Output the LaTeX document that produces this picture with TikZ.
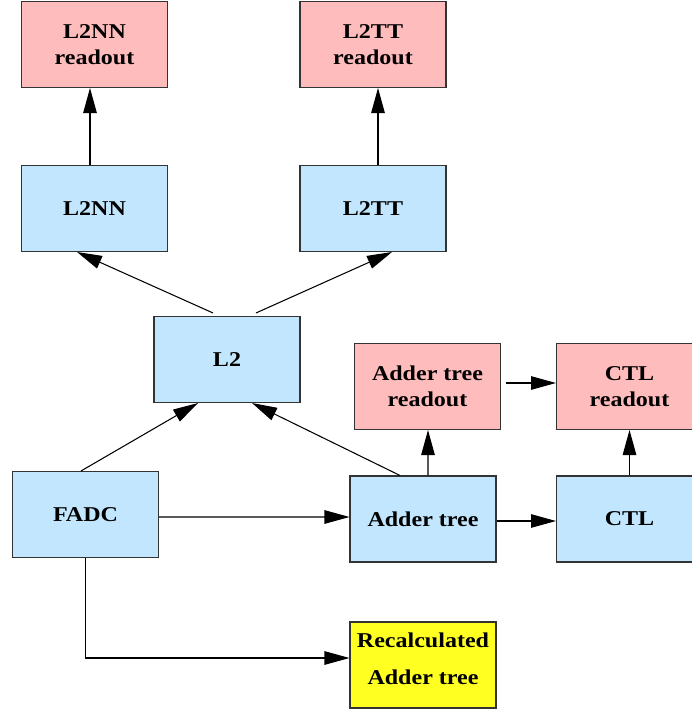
\documentclass[tikz,border=0pt]{standalone}
\usepackage{fontspec}
\setmainfont{Liberation Serif}[FakeStretch=1.14]
\usetikzlibrary{arrows.meta,calc}
\definecolor{boxB}{RGB}{193,230,253}
\definecolor{boxR}{RGB}{255,188,188}
\definecolor{boxY}{RGB}{255,255,34}

\begin{document}
\begin{tikzpicture}[x=0.02cm,y=-0.02cm,>={Triangle[length=5mm,width=2.7mm]},
  blk/.style={draw=black!80,line width=0.6pt,minimum width=2.92cm,minimum height=1.72cm,
    inner sep=0pt,align=center,font=\fontsize{12}{14.7}\selectfont\bfseries},
  con/.style={->,line width=0.6pt}]
\useasboundingbox (0,0) rectangle (692,709);
\node[blk,fill=boxR] (nnr) at (94.5,44.5) {L2NN\\readout};
\node[blk,fill=boxR] (ttr) at (373,44.5) {L2TT\\readout};
\node[blk,fill=boxB] (nn) at (94.5,208.5) {L2NN};
\node[blk,fill=boxB] (tt) at (373,208.5) {L2TT};
\node[blk,fill=boxB] (l2) at (227,359.5) {L2};
\node[blk,fill=boxR] (atr) at (427.5,386.5) {Adder tree\\readout};
\node[blk,fill=boxR] (ctlr) at (629.5,386.5) {CTL\\readout};
\node[blk,fill=boxB] (fadc) at (85.5,514.5) {FADC};
\node[blk,fill=boxB] (adder) at (423,519) {Adder tree};
\node[blk,fill=boxB] (ctl) at (629.5,519) {CTL};
\node[blk,fill=boxY,text depth=7pt] (recalc) at (423,665) {Recalculated\\[6pt]Adder tree};
\draw[con] ($(nn.north)+(-4.5,0)$) -- ($(nnr.south)+(-4.5,0)$);
\draw[con] ($(tt.north)+(5,0)$) -- ($(ttr.south)+(5,0)$);
\draw[con] ($(l2.north)+(-14,-3)$) -- ($(nn.south)+(-17.5,0)$);
\draw[con] ($(l2.north)+(29,-3)$) -- ($(tt.south)+(19,0)$);
\draw[con] ($(fadc.north)+(-4.5,0)$) -- ($(l2.south)+(-29,0)$);
\draw[con] ($(adder.north)+(-23,0)$) -- ($(l2.south)+(25,0)$);
\draw[con] ($(adder.north)+(5,0)$) -- ($(atr.south)+(0.5,0)$);
\draw[con] ($(atr.east)+(5,-3.5)$) -- ($(ctlr.west)+(0,-3.5)$);
\draw[con] ($(adder.east)+(0,2)$) -- ($(ctl.west)+(0,2)$);
\draw[con] (ctl.north) -- (ctlr.south);
\draw[con] ($(fadc.east)+(0,2.5)$) -- ($(adder.west)+(0,-2)$);
\draw[con] (fadc.south) |- ($(recalc.west)+(0,-7)$);
\end{tikzpicture}
\end{document}
